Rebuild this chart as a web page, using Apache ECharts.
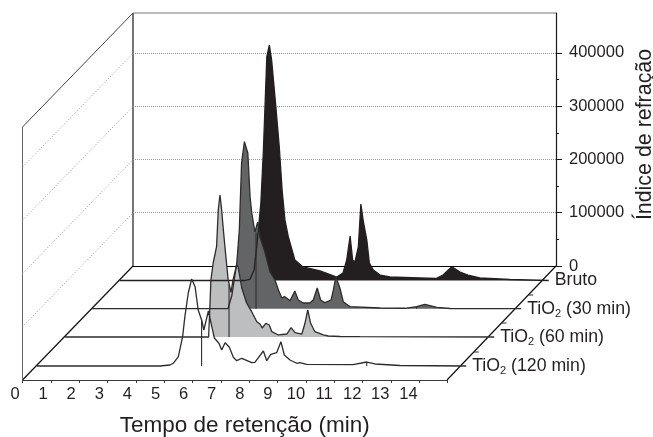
<!DOCTYPE html>
<html><head><meta charset="utf-8">
<style>html,body{margin:0;padding:0;background:#fff}#c{width:653px;height:437px}</style>
<script src="https://cdn.jsdelivr.net/npm/echarts@6/dist/echarts.min.js"></script>
</head><body><div id="c"></div>
<script>
const INK = '#231f20';
const FONT = '"Liberation Sans", Arial, sans-serif';

const xTickLabels = [0,1,2,3,4,5,6,7,8,9,10,11,12,13,14];
const yMajorTicks = [0,100000,200000,300000,400000];
const yMinorTicks = [50000,150000,250000,350000];

const bruto = [[0,0],[4.43,0],[4.61,2800],[4.75,19700],[4.85,66700],[4.99,145700],[5.08,245300],[5.20,420700],[5.29,442700],[5.37,414500],[5.52,326200],[5.64,251000],[5.74,170000],[5.84,113700],[5.96,81800],[6.19,38500],[6.48,25400],[7.08,17900],[7.67,6600],[7.89,14100],[8.02,38500],[8.14,83700],[8.23,38500],[8.31,34800],[8.43,63000],[8.52,143800],[8.61,110000],[8.67,113700],[8.73,76100],[8.82,32900],[8.96,19700],[9.2,10300],[9.55,6600],[10.6,4700],[11.17,3800],[11.42,10300],[11.73,25900],[12.02,16000],[12.3,10300],[12.72,4700],[13.78,1900],[15.15,0]];
const tio30 = [[0,0],[4.80,0],[4.94,25800],[5.11,85900],[5.20,148000],[5.28,273900],[5.38,314000],[5.50,292700],[5.58,210000],[5.64,179900],[5.75,144200],[5.85,163000],[5.93,134800],[6.11,104900],[6.28,69600],[6.46,54000],[6.58,35200],[6.70,20100],[6.79,22600],[6.87,20100],[6.99,15000],[7.16,33300],[7.28,16400],[7.46,10700],[7.69,10700],[7.81,16400],[7.95,38900],[8.07,16400],[8.22,11300],[8.44,16400],[8.52,35200],[8.61,60200],[8.75,38900],[8.87,13200],[9.11,3800],[10.17,1300],[11.05,800],[11.46,3800],[11.75,8300],[12.17,2600],[12.64,400],[15.15,0]];
const tio60 = [[0,0],[5.07,0],[5.08,1900],[5.12,63900],[5.15,107200],[5.23,139100],[5.35,169800],[5.41,238800],[5.47,267000],[5.52,244400],[5.59,201200],[5.68,150400],[5.76,107200],[5.86,84000],[5.93,107200],[6.06,135400],[6.11,131600],[6.24,92100],[6.41,63900],[6.59,47600],[6.77,28800],[6.88,24400],[6.96,16900],[7.09,25800],[7.21,22600],[7.30,10000],[7.53,3800],[7.83,5600],[7.98,17500],[8.12,8100],[8.36,5600],[8.47,25800],[8.57,50800],[8.67,25800],[8.82,10000],[9.12,3800],[9.29,1900],[9.71,900],[10.41,600],[15.15,0]];
const tio120 = [[0,0],[4.34,0],[4.69,1900],[4.81,5100],[4.99,17500],[5.14,55100],[5.22,92700],[5.34,137200],[5.46,163600],[5.58,149100],[5.69,105300],[5.81,86500],[5.89,67700],[6.05,103400],[6.17,73900],[6.26,52600],[6.42,42700],[6.52,30100],[6.64,43800],[6.79,35200],[6.93,16400],[7.05,10000],[7.23,14500],[7.58,6200],[7.69,7000],[7.99,28200],[8.11,10000],[8.25,22000],[8.46,25000],[8.61,45700],[8.73,20700],[8.93,11300],[9.17,5100],[9.28,6200],[9.52,3200],[11.16,2400],[11.64,7500],[11.93,3800],[12.81,900],[15.15,0]];
const drops30 = [[5.79,143000],[11.46,3800]];
const drops60 = [[5.79,98000]];
const drops120 = [[5.81,86500],[11.64,7500]];

const labelBruto = 'Bruto';
const label30 = '{t|TiO}{s|2}{t| (30 min)}';
const label60 = '{t|TiO}{s|2}{t| (60 min)}';
const label120 = '{t|TiO}{s|2}{t| (120 min)}';

// Layout of the pseudo-3D box
const PXMIN = 28.33, PXUNIT = 53.2 / 100000;
const YMAX = 475000, PLOT_H = YMAX * PXUNIT, XMAX = 15.15;
const planes = [
  {data: bruto,  x0: 119.5, base: 280.5, fill: INK,       line: INK,       label: labelBruto, drops: []},
  {data: tio30,  x0: 92,    base: 308.7, fill: '#636466', line: '#2e2c2d', label: label30,    drops: drops30},
  {data: tio60,  x0: 65,    base: 337,   fill: '#bcbec0', line: '#2e2c2d', label: label60,    drops: drops60},
  {data: tio120, x0: 37,    base: 366,   fill: '#ffffff', line: '#2e2c2d', label: label120,   drops: drops120}
];

const NOFIT = {outerBoundsMode: 'none', containLabel: false};
const grid = [
  Object.assign({left: 133, top: 13, width: 423, height: 253}, NOFIT),
  Object.assign({left: 22.5, top: 360, width: 425, height: 20}, NOFIT),
  Object.assign({left: 15, top: 360, width: 421.5, height: 20}, NOFIT)
];
const xAxis = [
  {gridIndex: 0, type: 'value', min: 0, max: 15, axisLine: {show: true, onZero: false, lineStyle: {color: '#000', width: 1.2}}, axisTick: {show: false}, axisLabel: {show: false}, splitLine: {show: false}},
  {gridIndex: 1, type: 'value', min: 0, max: 15, interval: 1, axisLine: {show: true, onZero: false, lineStyle: {color: '#3a3a3a', width: 1}}, axisTick: {show: true, length: 3, lineStyle: {color: '#3a3a3a'}}, axisLabel: {show: false}, splitLine: {show: false}},
  {gridIndex: 2, type: 'value', min: 0, max: 15, interval: 1, axisLine: {show: false}, axisTick: {show: false},
    axisLabel: {show: true, margin: 6, color: INK, fontFamily: FONT, fontSize: 16.5, customValues: xTickLabels},
    splitLine: {show: false},
    name: 'Tempo de retenção (min)', nameLocation: 'middle', nameGap: 34,
    nameTextStyle: {color: INK, fontFamily: FONT, fontSize: 22.5, padding: [0, 0, 0, 38]}}
];
const yAxis = [
  {gridIndex: 0, type: 'value', position: 'right', min: 0, max: YMAX,
    axisLine: {show: true, onZero: false, lineStyle: {color: '#1a1a1a', width: 1.2}},
    axisTick: {show: true, length: 6, customValues: yMajorTicks, lineStyle: {color: '#1a1a1a'}},
    axisLabel: {show: true, margin: 13, color: INK, fontFamily: FONT, fontSize: 16.5, customValues: yMajorTicks, formatter: (v) => String(v)},
    splitLine: {show: true, lineStyle: {color: '#999', type: 'dotted', width: 1}},
    name: 'Índice de refração', nameLocation: 'middle', nameGap: 68, nameRotate: 90,
    nameTextStyle: {color: INK, fontFamily: FONT, fontSize: 21.4, padding: [0, 0, 13, 10]}},
  {gridIndex: 0, type: 'value', position: 'right', min: 0, max: YMAX,
    axisLine: {show: false, onZero: false}, axisLabel: {show: false}, splitLine: {show: false},
    axisTick: {show: true, length: 3, customValues: yMinorTicks, lineStyle: {color: '#1a1a1a'}}},
  {gridIndex: 1, type: 'value', show: false, min: 0, max: 1},
  {gridIndex: 2, type: 'value', show: false, min: 0, max: 1}
];

const series = [];
planes.forEach((p) => {
  const g = grid.length;
  const xi = xAxis.length;
  const yi = yAxis.length;
  grid.push(Object.assign({left: p.x0, top: p.base - PLOT_H, width: XMAX * PXMIN, height: PLOT_H}, NOFIT));
  xAxis.push({gridIndex: g, type: 'value', show: false, min: 0, max: XMAX});
  yAxis.push({gridIndex: g, type: 'value', show: false, min: 0, max: YMAX});
  series.push({
    type: 'line', xAxisIndex: xi, yAxisIndex: yi, data: p.data, symbol: 'none', smooth: false, clip: false,
    lineStyle: {color: p.line, width: 1.3}, areaStyle: {color: p.fill, opacity: 1},
    endLabel: {show: true, formatter: p.label, distance: 6, color: INK, fontFamily: FONT, fontSize: 17.7,
      rich: {t: {fontFamily: FONT, fontSize: 17.7, color: INK}, s: {fontFamily: FONT, fontSize: 11, color: INK, padding: [10, 0, 0, 0]}}}
  });
  p.drops.forEach((d) => {
    series.push({type: 'line', xAxisIndex: xi, yAxisIndex: yi, data: [[d[0], 0], d], symbol: 'none', silent: true, lineStyle: {color: p.line, width: 1.1}});
  });
});

// Box frame drawn around the plotted planes
const ln = (x1, y1, x2, y2, stroke, extra) => ({type: 'line', z: -1, shape: {x1, y1, x2, y2}, style: Object.assign({stroke, lineWidth: 1}, extra || {})});
const frame = [
  ln(22.5, 380, 133, 266, '#111', {lineWidth: 1.2}),
  ln(447, 380, 556, 266, '#111', {lineWidth: 1.2}),
  ln(22.5, 380, 22.5, 127, '#666'),
  ln(133, 266, 133, 13, '#1a1a1a', {lineWidth: 1.2}),
  ln(22.5, 127, 133, 13, '#444'),
  ln(133, 13, 556, 13, '#777')
];
yMajorTicks.slice(1).forEach((v) => {
  const d = v * PXUNIT;
  frame.push(ln(22.5, 380 - d, 133, 266 - d, '#999', {lineDash: [1, 2]}));
});
[295, 323, 352].forEach((y) => {
  const x = 447 + (380 - y) * 109 / 114;
  frame.push(ln(x, y, x + 5, y, '#333'));
});

const chart = echarts.init(document.getElementById('c'), null, {renderer: 'canvas'});
chart.setOption({animation: false, backgroundColor: '#fff', grid, xAxis, yAxis, series, graphic: frame});
</script></body></html>
